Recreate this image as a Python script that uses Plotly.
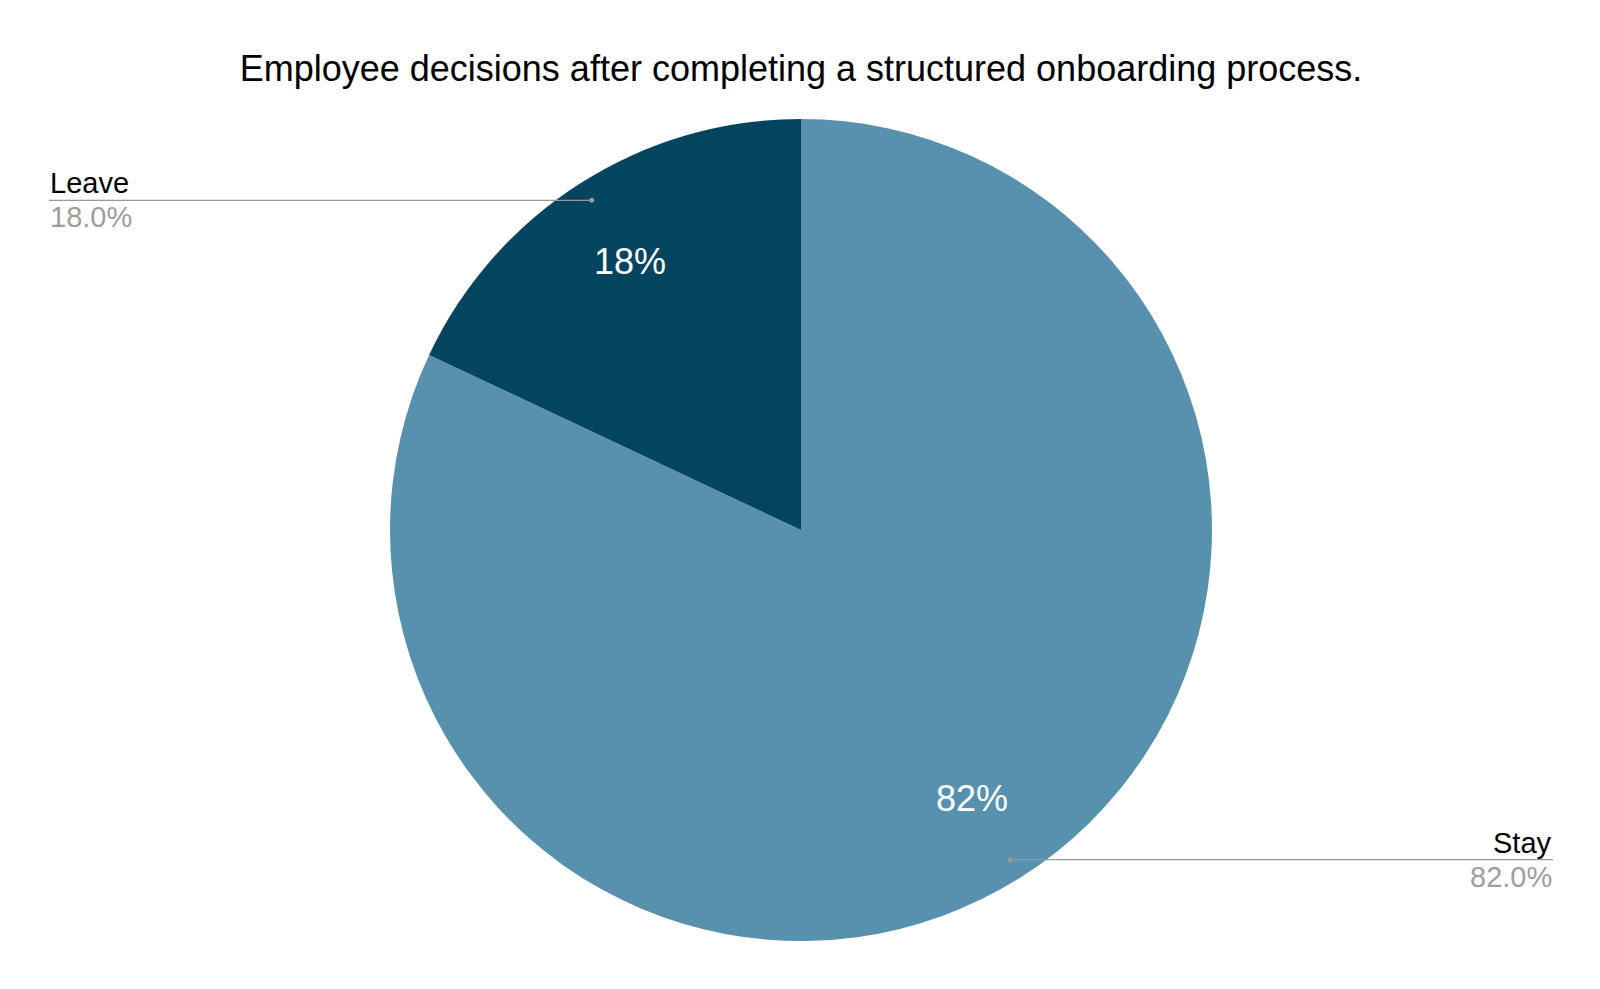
import math
import plotly.graph_objects as go

# data
labels = ["Stay", "Leave"]
values = [82, 18]
colors = ["#5891AE", "#03445F"]

TITLE = "Employee decisions after completing a structured onboarding process."
FONT = "Liberation Sans, Arial, sans-serif"

# layout geometry (pixels)
FIG_W, FIG_H = 1600, 989
M_L, M_R, M_T, M_B = 40, 54, 111, 56
PLOT_W = FIG_W - M_L - M_R
PLOT_H = FIG_H - M_T - M_B
RADIUS = min(PLOT_W, PLOT_H) / 2
CX = PLOT_W / 2
CY = PLOT_H / 2
LABEL_LEFT_X = 41
LABEL_RIGHT_X = 1545
LINE_GRAY = "#999999"


def to_paper(px, py):
    # px, py measured from plot-area top-left in pixels
    return px / PLOT_W, 1 - py / PLOT_H


def slice_point(mid_frac, rho):
    theta = 2 * math.pi * mid_frac
    px = CX + rho * RADIUS * math.sin(theta)
    py = CY - rho * RADIUS * math.cos(theta)
    return to_paper(px, py)


fig = go.Figure(go.Pie(
    labels=labels,
    values=values,
    marker=dict(colors=colors, line=dict(width=0)),
    sort=False,
    direction="clockwise",
    rotation=0,
    textinfo="none",
    hoverinfo="label+percent",
    showlegend=False,
))

total = sum(values)
cum = 0
annotations = []
shapes = []
for lab, val in zip(labels, values):
    mid = (cum + val / 2) / total
    cum += val
    pct = 100 * val / total

    # inside percentage
    ix, iy = slice_point(mid, 0.775)
    annotations.append(dict(
        x=ix, y=iy, xref="paper", yref="paper", text=f"{pct:.0f}%",
        xanchor="center", yanchor="middle",
        showarrow=False, font=dict(family=FONT, size=36, color="white"),
    ))

    # leader line + outside labels
    lx, ly = slice_point(mid, 0.95)
    left_side = math.sin(2 * math.pi * mid) < 0
    edge_px = LABEL_LEFT_X if left_side else LABEL_RIGHT_X
    ex = (edge_px - M_L) / PLOT_W
    anchor = "left" if left_side else "right"
    shapes.append(dict(
        type="line", xref="paper", yref="paper", x0=lx, x1=ex, y0=ly, y1=ly,
        line=dict(color=LINE_GRAY, width=1.2),
    ))
    shapes.append(dict(
        type="circle", xref="paper", yref="paper", xsizemode="pixel", ysizemode="pixel",
        xanchor=lx, yanchor=ly, x0=-2.5, x1=2.5, y0=-2.5, y1=2.5,
        fillcolor=LINE_GRAY, line=dict(width=0),
    ))
    annotations.append(dict(
        x=ex, y=ly, xref="paper", yref="paper", text=lab, showarrow=False,
        xanchor=anchor, yanchor="bottom", yshift=0, borderpad=0,
        font=dict(family=FONT, size=29, color="#000000"),
    ))
    annotations.append(dict(
        x=ex, y=ly, xref="paper", yref="paper", text=f"{pct:.1f}%", showarrow=False,
        xanchor=anchor, yanchor="top", yshift=0, borderpad=0,
        font=dict(family=FONT, size=29, color="#9E9E9E"),
    ))

fig.update_layout(
    width=FIG_W,
    height=FIG_H,
    margin=dict(l=M_L, r=M_R, t=M_T, b=M_B),
    paper_bgcolor="white",
    plot_bgcolor="white",
    title=dict(
        text=TITLE, x=(M_L + CX) / FIG_W, xanchor="center", y=1 - 60 / FIG_H, yanchor="middle",
        font=dict(family=FONT, size=36, color="#000000"),
    ),
    annotations=annotations,
    shapes=shapes,
)

fig.write_html("out.html")
